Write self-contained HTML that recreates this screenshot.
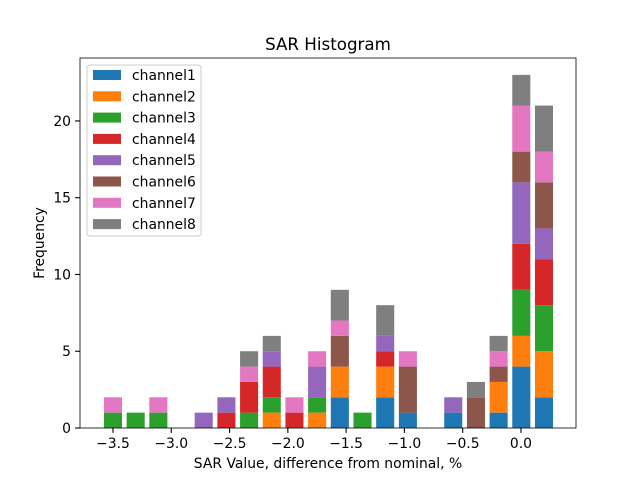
<!DOCTYPE html>
<html><head><meta charset="utf-8"><style>body{margin:0;background:#fff}svg{display:block;font-family:"DejaVu Sans","Liberation Sans",sans-serif}</style></head>
<body>
<svg id="chart" width="640" height="480" xmlns="http://www.w3.org/2000/svg"></svg>
<script>
const binCenters = [-3.5,-3.3054,-3.1108,-2.9162,-2.7216,-2.527,-2.3324,-2.1378,-1.9432,-1.7486,-1.554,-1.3594,-1.1648,-0.9702,-0.7756,-0.581,-0.3864,-0.1918,0.0028,0.1974];
const seriesNames = ["channel1","channel2","channel3","channel4","channel5","channel6","channel7","channel8"];
const colors = ["#1f77b4","#ff7f0e","#2ca02c","#d62728","#9467bd","#8c564b","#e377c2","#7f7f7f"];
const ch1 = [0,0,0,0,0,0,0,0,0,0,2,0,2,1,0,1,0,1,4,2];
const ch2 = [0,0,0,0,0,0,0,1,0,1,2,0,2,0,0,0,0,2,2,3];
const ch3 = [1,1,1,0,0,0,1,1,0,1,0,1,0,0,0,0,0,0,3,3];
const ch4 = [0,0,0,0,0,1,2,2,1,0,0,0,1,0,0,0,0,0,3,3];
const ch5 = [0,0,0,0,1,1,0,1,0,2,0,0,1,0,0,1,0,0,4,2];
const ch6 = [0,0,0,0,0,0,0,0,0,0,2,0,0,3,0,0,2,1,2,3];
const ch7 = [1,0,1,0,0,0,1,0,1,1,1,0,0,1,0,0,0,1,3,2];
const ch8 = [0,0,0,0,0,0,1,1,0,0,2,0,2,0,0,0,1,1,2,3];
const xTicks = [-3.5,-3.0,-2.5,-2.0,-1.5,-1.0,-0.5,0.0];
const xTickLabels = ["\u22123.5","\u22123.0","\u22122.5","\u22122.0","\u22121.5","\u22121.0","\u22120.5","0.0"];
const yTicks = [0,5,10,15,20];
const series = [ch1,ch2,ch3,ch4,ch5,ch6,ch7,ch8];

const L=80,R=576,T=58,B=428;
const xMin=-3.783,xMax=0.472,yMin=0,yMax=24.1;
const xs=v=>L+(v-xMin)/(xMax-xMin)*(R-L);
const ys=v=>B-(v-yMin)/(yMax-yMin)*(B-T);
const barW=0.155;
const NS="http://www.w3.org/2000/svg";
const svg=document.getElementById('chart');
function mk(tag,attrs,parent){const e=document.createElementNS(NS,tag);for(const k in attrs)e.setAttribute(k,attrs[k]);(parent||svg).appendChild(e);return e;}

const bars=mk('g',{});


const base=binCenters.map(()=>0);
series.forEach((s,si)=>{
  s.forEach((v,i)=>{
    if(v>0){
      const r=mk('rect',{x:xs(binCenters[i]-barW/2),y:ys(base[i]+v),width:xs(binCenters[i]+barW/2)-xs(binCenters[i]-barW/2),height:ys(base[i])-ys(base[i]+v),fill:colors[si]},bars);
      
      
    }
    base[i]+=v;
  });
});

const frame=mk('rect',{x:L,y:T,width:R-L,height:B-T,fill:'none',stroke:'#000','stroke-width':0.8});



xTicks.forEach((t,i)=>{
  const x=xs(t);
  mk('line',{x1:x,x2:x,y1:B,y2:B+4.9,stroke:'#000','stroke-width':1.1});
  const tx=mk('text',{x:x,y:B+20,'font-size':13.9,'text-anchor':'middle',fill:'#000'});
  tx.textContent=xTickLabels[i];
  
  
});
yTicks.forEach(t=>{
  const y=ys(t);
  mk('line',{x1:L-4.9,x2:L,y1:y,y2:y,stroke:'#000','stroke-width':1.1});
  const tx=mk('text',{x:L-9,y:y+5,'font-size':13.9,'text-anchor':'end',fill:'#000'});
  tx.textContent=String(t);
  
  
});

const title=mk('text',{x:(L+R)/2,y:50,'font-size':16.7,'text-anchor':'middle'});
title.textContent='SAR Histogram';


const xl=mk('text',{x:(L+R)/2,y:468,'font-size':13.9,'text-anchor':'middle'});
xl.textContent='SAR Value, difference from nominal, %';


const yl=mk('text',{x:44,y:(T+B)/2,'font-size':13.9,'text-anchor':'middle',transform:'rotate(-90 44 '+((T+B)/2)+')'});
yl.textContent='Frequency';



const lg=mk('g',{});


mk('rect',{x:87,y:65,width:114,height:171,rx:3,fill:'#fff','fill-opacity':0.8,stroke:'#ccc','stroke-width':1},lg);
seriesNames.forEach((n,i)=>{
  const y=70+i*21.3;
  const sw=mk('rect',{x:93,y:y,width:28,height:10,fill:colors[i]},lg);
  
  
  const tx=mk('text',{x:132,y:y+10,'font-size':13.9},lg);
  tx.textContent=n;
  
  
});
</script>
</body></html>
